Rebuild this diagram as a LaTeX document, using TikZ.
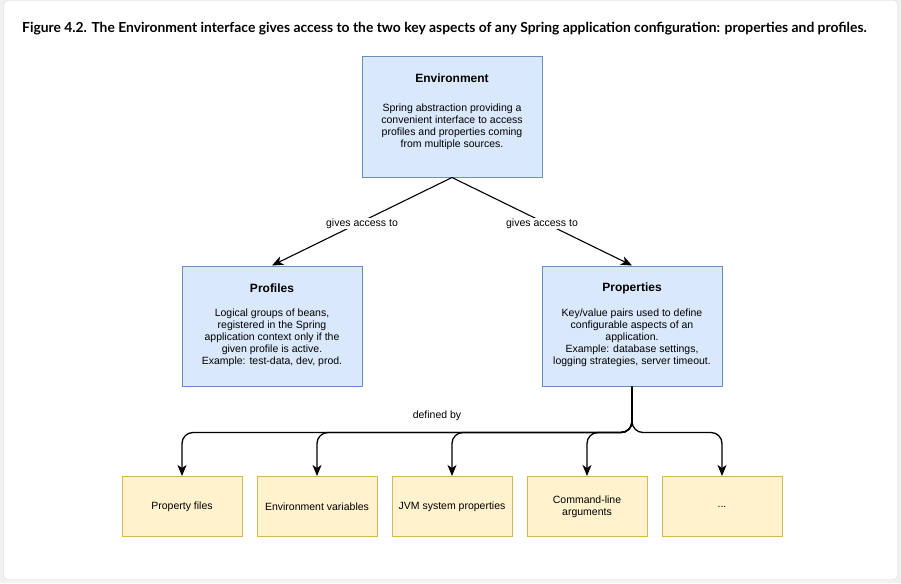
\documentclass[tikz,border=0pt]{standalone}
\usepackage{fontspec}
\setmainfont{Liberation Sans}
\newfontfamily\latofont{Lato}
\usetikzlibrary{arrows.meta}
\definecolor{envfill}{HTML}{DAE8FC}
\definecolor{envline}{HTML}{6C8EBF}
\definecolor{srcfill}{HTML}{FFF2CC}
\definecolor{srcline}{HTML}{D6B656}
\begin{document}
\begin{tikzpicture}[x=1pt,y=-1pt,
  bluebox/.style={draw=envline,fill=envfill,line width=1pt,minimum width=180pt,minimum height=120pt},
  srcbox/.style={draw=srcline,fill=srcfill,line width=1pt,minimum width=120pt,minimum height=60pt,align=center,font=\fontsize{10.5}{12}\selectfont},
  heading/.style={font=\fontsize{12}{14}\selectfont\bfseries},
  body/.style={align=center,font=\fontsize{10.5}{12}\selectfont},
  conn/.style={-{Stealth[length=11pt,width=9pt,inset=3pt]},line width=1.3pt},
  lbl/.style={fill=white,inner sep=1pt,font=\fontsize{10.5}{12}\selectfont}]
\useasboundingbox (0,0) rectangle (901,583);
% page and frame
\fill[black!5] (0,0) rectangle (901,583);
\draw[fill=white,draw=black!15,rounded corners=4pt] (3.5,0.5) rectangle (897.5,579.5);
\node[anchor=base west,inner sep=0pt,font={\latofont\bfseries\fontsize{13.85}{16}\selectfont}] (title) at (22,32.5)
  {Figure 4.2. The Environment interface gives access to the two key aspects of any Spring application configuration: properties and profiles.};

% the three blue boxes
\node[bluebox] (env) at (452,117) {};
\node[heading] (envhead) at (452,78) {Environment};
\node[body] (envbody) at (452,127) {Spring abstraction providing a\\convenient interface to access\\profiles and properties coming\\from multiple sources.};

\node[bluebox] (prof) at (272,326) {};
\node[heading] (profhead) at (272,288) {Profiles};
\node[body] (profbody) at (272,338) {Logical groups of beans,\\registered in the Spring\\application context only if the\\given profile is active.\\Example: test-data, dev, prod.};

\node[bluebox] (props) at (632,326) {};
\node[heading] (propshead) at (632,288) {Properties};
\node[body] (propsbody) at (632,338) {Key/value pairs used to define\\configurable aspects of an\\application.\\Example: database settings,\\logging strategies, server timeout.};

\draw[conn,line width=1.1pt] (env.south) -- node[lbl,yshift=-2pt] (lblprof) {gives access to} (prof.north);
\draw[conn,line width=1.1pt] (env.south) -- node[lbl,yshift=-2pt] (lblprops) {gives access to} (props.north);

% property sources
\node[srcbox] (pfiles) at (182,506.5) {Property files};
\node[srcbox] (envvars) at (317,506.5) {Environment variables};
\node[srcbox] (jvm) at (452,506.5) {JVM system properties};
\node[srcbox] (cmdline) at (587,506.5) {Command-line\\arguments};
\node[srcbox] (more) at (722,506.5) {...};

\foreach \n in {pfiles,envvars,jvm,cmdline,more}
  \draw[conn,rounded corners=11pt] (props.south) -- ++(0,46) -| (\n.north);
\node[lbl,fill=none] (defby) at (437,416) {defined by};
\end{tikzpicture}
\end{document}
